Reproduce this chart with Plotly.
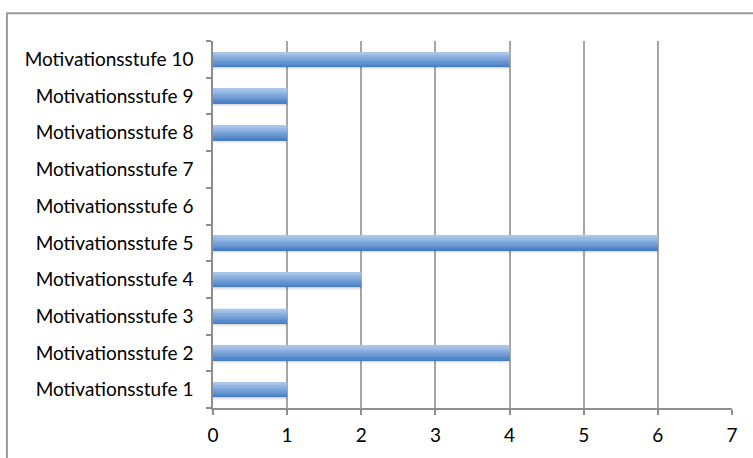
import plotly.graph_objects as go

# Data
categories = [f"Motivationsstufe {i}" for i in range(1, 11)]
counts = [1, 4, 1, 2, 6, 0, 0, 1, 1, 4]
x_ticks = [0, 1, 2, 3, 4, 5, 6, 7]

BAR_WIDTH = 0.40          # fraction of a category slot
N_BANDS = 12              # bands used to fake a vertical gradient
TOP_RGB = (168, 197, 235)
BOTTOM_RGB = (70, 126, 196)


def mix(a, b, t):
    return "rgb({},{},{})".format(*[round(a[i] + (b[i] - a[i]) * t) for i in range(3)])


fig = go.Figure()

# soft drop shadow under each bar
shadow_steps = [(0.035, "rgba(0,0,0,0.10)"), (0.07, "rgba(0,0,0,0.05)"), (0.10, "rgba(0,0,0,0.025)")]
for depth, col in shadow_steps:
    fig.add_trace(go.Bar(
        x=counts, y=categories, orientation="h",
        width=depth, offset=-BAR_WIDTH / 2 - depth,
        marker=dict(color=col, line=dict(width=0)),
        hoverinfo="skip", showlegend=False,
    ))

# gradient bars built from horizontal bands (bottom = dark, top = light)
band = BAR_WIDTH / N_BANDS
for k in range(N_BANDS):
    t = k / (N_BANDS - 1)
    fig.add_trace(go.Bar(
        x=counts, y=categories, orientation="h",
        width=band * 1.05, offset=-BAR_WIDTH / 2 + k * band,
        marker=dict(color=mix(BOTTOM_RGB, TOP_RGB, t), line=dict(width=0)),
        hoverinfo="skip" if k else None, showlegend=False,
    ))

# outer chart frame (runs off the right and bottom edges)
fig.add_shape(type="rect", xref="paper", yref="paper",
              x0=-0.397, x1=1.2, y0=-0.5, y1=1.0753,
              line=dict(color="#9a9a9a", width=2), layer="below")

axis_grey = "#8e8e8e"
fig.update_layout(
    width=753, height=458,
    margin=dict(l=213, r=21, t=41, b=45),
    paper_bgcolor="white", plot_bgcolor="white",
    barmode="overlay",
    font=dict(family="Lato, sans-serif", size=19, color="#000000"),
    xaxis=dict(
        range=[0, 7], tickvals=x_ticks,
        showgrid=True, gridcolor="#a6a6a6", gridwidth=1.5,
        showline=True, linecolor=axis_grey, linewidth=1.5,
        ticks="outside", ticklen=5, tickcolor=axis_grey, tickwidth=1.5,
        ticklabelstandoff=4,
        zeroline=False, fixedrange=True,
    ),
    yaxis=dict(
        categoryorder="array", categoryarray=categories,
        showgrid=False,
        showline=True, linecolor=axis_grey, linewidth=1.5,
        ticks="outside", ticklen=5, tickcolor=axis_grey, tickwidth=1.5,
        tickson="boundaries", ticklabelstandoff=14,
        fixedrange=True,
    ),
)

fig.write_html("out.html")
